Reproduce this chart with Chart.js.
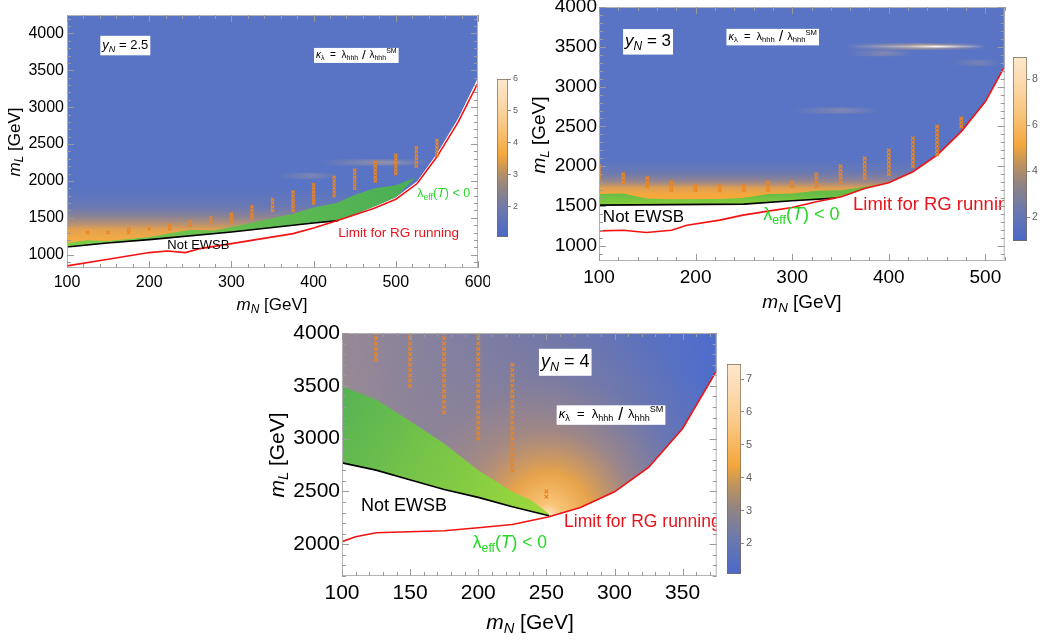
<!DOCTYPE html>
<html>
<head>
<meta charset="utf-8">
<script src="https://cdn.jsdelivr.net/npm/chart.js"></script>
<style>
  body { margin: 0; background: #fff; width: 1047px; height: 644px; position: relative; overflow: hidden; }
  canvas { position: absolute; }
</style>
</head>
<body>
<canvas id="p1" width="490" height="320" style="left:0;top:0"></canvas>
<canvas id="p2" width="490" height="320" style="left:520px;top:0"></canvas>
<canvas id="p3" width="472" height="326" style="left:250px;top:318px"></canvas>
<canvas id="cb1" width="30" height="176" style="left:494px;top:70px"></canvas>
<canvas id="cb2" width="39" height="202" style="left:1008px;top:48px"></canvas>
<canvas id="cb3" width="40" height="228" style="left:722px;top:355px"></canvas>
<script>
const FONT = '"Liberation Sans", Arial, sans-serif'

// ---------- panel 1 : y_N = 2.5 ----------
const p1XTicks = [100, 200, 300, 400, 500, 600]
const p1YTicks = [1000, 1500, 2000, 2500, 3000, 3500, 4000]
const p1RedX = [100, 150, 200, 222, 244, 262, 300, 375, 400, 430, 473, 500, 526, 550, 576, 600]
const p1RedY = [848, 938, 1029, 1050, 1029, 1083, 1151, 1286, 1363, 1467, 1626, 1752, 1965, 2327, 2801, 3331]
const p1BlackX = [100, 149, 200, 300, 400, 430]
const p1BlackY = [1105, 1160, 1205, 1309, 1431, 1462]
// lower edge of the coloured area right of the black line (thin white gap above the red line)
const p1EdgeX = [473, 500, 526, 550, 576, 600, 610]
const p1EdgeY = [1650, 1778, 1995, 2370, 2850, 3400, 3700]
const p1GreenTopX = [100, 124, 149, 200, 250, 278, 300, 375, 400, 428, 449, 473, 500, 524]
const p1GreenTopY = [1160, 1195, 1186, 1240, 1340, 1330, 1376, 1557, 1639, 1702, 1806, 1897, 1942, 2046]
const p1Crosses = [
  [125, [1300]], [150, [1300]], [175, [1300, 1350]], [200, [1350]], [225, [1350, 1400]],
  [250, [1400, 1450]], [275, [1450, 1500]], [300, [1450, 1500, 1550]],
  [325, [1500, 1550, 1600, 1650]], [350, [1600, 1650, 1700, 1750]],
  [375, [1600, 1650, 1700, 1750, 1800, 1850]], [400, [1700, 1750, 1800, 1850, 1900, 1950]],
  [425, [1800, 1850, 1900, 1950, 2000, 2050]], [450, [1900, 1950, 2000, 2050, 2100, 2150]],
  [475, [2000, 2050, 2100, 2150, 2200, 2250]], [500, [2100, 2150, 2200, 2250, 2300, 2350]],
  [525, [2200, 2250, 2300, 2350, 2400, 2450]], [550, [2350, 2400, 2450, 2500, 2550]]
]
const p1StreakY = [2250, 2069]
const p1StreakX0 = [408, 355]
const p1StreakX1 = [542, 430]
const p1StreakGlow = [0.6, 0.4]
const p1StreakCore = [0.12, 0.05]

// ---------- panel 2 : y_N = 3 ----------
const p2XTicks = [100, 200, 300, 400, 500]
const p2YTicks = [1000, 1500, 2000, 2500, 3000, 3500, 4000]
const p2RedX = [100, 125, 149, 175, 191, 225, 249, 275, 300, 325, 351, 375, 400, 425, 450, 475, 500, 520]
const p2RedY = [1188, 1197, 1168, 1197, 1260, 1323, 1386, 1436, 1482, 1553, 1616, 1721, 1793, 1931, 2141, 2435, 2812, 3253]
const p2BlackX = [100, 250, 300, 345]
const p2BlackY = [1512, 1524, 1566, 1600]
const p2EdgeX = [351, 375, 400, 425, 450, 475, 500, 520, 530]
const p2EdgeY = [1616, 1721, 1793, 1931, 2141, 2435, 2812, 3253, 3500]
const p2GreenTopX = [100, 125, 149, 175, 225, 249, 275, 300, 325, 351, 375, 400]
const p2GreenTopY = [1650, 1658, 1595, 1587, 1590, 1600, 1650, 1658, 1692, 1700, 1742, 1793]
const p2Crosses = [
  [100, [1850, 1900, 1950, 2000]], [125, [1800, 1850, 1900]], [150, [1750, 1800, 1850]],
  [175, [1700, 1750, 1800]], [200, [1700, 1750]], [225, [1700, 1750]], [250, [1700, 1750]],
  [275, [1700, 1750, 1800]], [300, [1750, 1800]], [325, [1750, 1800, 1850, 1900]],
  [350, [1800, 1850, 1900, 1950, 2000]], [375, [1850, 1900, 1950, 2000, 2050, 2100]],
  [400, [1900, 1950, 2000, 2050, 2100, 2150, 2200]],
  [425, [2000, 2050, 2100, 2150, 2200, 2250, 2300, 2350]],
  [450, [2150, 2200, 2250, 2300, 2350, 2400, 2450, 2500]], [475, [2500, 2550, 2600]]
]
const p2StreakY = [3504, 3420, 3300, 2700]
const p2StreakX0 = [356, 356, 465, 300]
const p2StreakX1 = [500, 425, 515, 390]
const p2StreakGlow = [1, 0.45, 0.35, 0.45]
const p2StreakCore = [1, 0.06, 0.04, 0.06]

// ---------- panel 3 : y_N = 4 ----------
const p3XTicks = [100, 150, 200, 250, 300, 350]
const p3YTicks = [2000, 2500, 3000, 3500, 4000]
const p3RedX = [100, 110, 125, 149, 175, 200, 225, 252, 275, 300, 325, 350, 374, 380]
const p3RedY = [2025, 2072, 2110, 2119, 2129, 2157, 2188, 2261, 2349, 2497, 2727, 3096, 3622, 3760]
const p3BlackX = [100, 125, 149, 175, 200, 225, 252]
const p3BlackY = [2771, 2702, 2614, 2519, 2444, 2355, 2270]
const p3GreenTopX = [100, 125, 149, 175, 200, 225, 239, 252]
const p3GreenTopY = [3496, 3370, 3175, 2954, 2702, 2497, 2418, 2286]
const p3Crosses = [
  [100, [4000]],
  [125, [3750, 3800, 3850, 3900, 3950, 4000]],
  [150, [3500, 3550, 3600, 3650, 3700, 3750, 3800, 3850, 3900, 3950, 4000]],
  [175, [3250, 3300, 3350, 3400, 3450, 3500, 3550, 3600, 3650, 3700, 3750, 3800, 3850, 3900, 3950, 4000]],
  [200, [3000, 3050, 3100, 3150, 3200, 3250, 3300, 3350, 3400, 3450, 3500, 3550, 3600, 3650, 3700, 3750, 3800, 3850, 3900, 3950, 4000]],
  [225, [2700, 2750, 2800, 2850, 2900, 2950, 3000, 3050, 3100, 3150, 3200, 3250, 3300, 3350, 3400, 3450, 3500, 3550, 3600, 3650, 3700]],
  [250, [2450, 2500]]
]

// colour bars (kappa_lambda)
const cb1Range = [1.03, 6]
const cb1Ticks = [2, 3, 4, 5, 6]
const cb2Range = [0.96, 8.96]
const cb2Ticks = [2, 4, 6, 8]
const cb3Range = [1.07, 7.46]
const cb3Ticks = [2, 3, 4, 5, 6, 7]

// ---------- helpers ----------
const pts = (xs, ys) => xs.map((x, i) => ({ x, y: ys[i] }))
const crossPts = cols => cols.flatMap(([x, ys]) => ys.map(y => ({ x, y })))

const CMAP = [
  [0, '#4a68c8'], [0.17, '#6c79ae'], [0.32, '#948580'], [0.43, '#c4955a'],
  [0.52, '#f4a73c'], [0.7, '#f9c680'], [0.86, '#fcdaae'], [1, '#fde8cc']
]

function yGrad(chart, stops) {
  const { ctx, chartArea, scales } = chart
  if (!chartArea) return 'rgba(0,0,0,0)'
  const y0 = scales.y.getPixelForValue(stops[0][0])
  const y1 = scales.y.getPixelForValue(stops[stops.length - 1][0])
  const g = ctx.createLinearGradient(0, y0, 0, y1)
  stops.forEach(([v, c]) => g.addColorStop((scales.y.getPixelForValue(v) - y0) / (y1 - y0), c))
  return g
}

function lineGrad(chart, a, b, stops) {
  const { ctx, chartArea, scales } = chart
  if (!chartArea) return 'rgba(0,0,0,0)'
  const g = ctx.createLinearGradient(
    scales.x.getPixelForValue(a[0]), scales.y.getPixelForValue(a[1]),
    scales.x.getPixelForValue(b[0]), scales.y.getPixelForValue(b[1]))
  stops.forEach(([t, c]) => g.addColorStop(t, c))
  return g
}

function radialGrad(chart, c, stops) {
  const { ctx, chartArea, scales } = chart
  if (!chartArea) return 'rgba(0,0,0,0)'
  const px = scales.x.getPixelForValue(c[0])
  const py = scales.y.getPixelForValue(c[1])
  const rMax = stops[stops.length - 1][0]
  const g = ctx.createRadialGradient(px, py, 0, px, py, rMax)
  stops.forEach(([r, col]) => g.addColorStop(r / rMax, col))
  return g
}

function drawRich(ctx, runs, x, y, size, color, measureOnly) {
  let cx = x
  runs.forEach(r => {
    const s = r.s ? size * 0.7 : size * (r.k || 1)
    ctx.font = (r.i ? 'italic ' : '') + s.toFixed(1) + 'px ' + FONT
    const dy = r.s === 'sub' ? size * 0.3 : r.s === 'sup' ? -size * 0.38 : 0
    if (!measureOnly) {
      ctx.fillStyle = color
      ctx.fillText(r.t, cx, y + dy)
    }
    cx += ctx.measureText(r.t).width
  })
  return cx - x
}

const runsYN = v => [{ t: 'y', i: 1 }, { t: 'N', i: 1, s: 'sub' }, { t: ' = ' + v }]
const runsKappa = [
  { t: 'κ', i: 1 }, { t: 'λ', s: 'sub' }, { t: '  =  ' }, { t: 'λ' }, { t: 'hhh', s: 'sub' },
  { t: ' / ', k: 1.35 }, { t: 'λ' }, { t: 'hhh', s: 'sub' }, { t: 'SM', s: 'sup' }
]
const runsEff = [{ t: 'λ' }, { t: 'eff', s: 'sub' }, { t: '(' }, { t: 'T', i: 1 }, { t: ') < 0' }]
const runsTitle = v => [{ t: 'm', i: 1 }, { t: v, i: 1, s: 'sub' }, { t: ' [GeV]' }]

function decor(p) {
  return {
    id: 'decor',
    afterDatasetsDraw(chart) {
      const { ctx, chartArea, scales } = chart
      ctx.save()
      ctx.beginPath()
      ctx.rect(chartArea.left, chartArea.top, chartArea.right - chartArea.left, chartArea.bottom - chartArea.top)
      ctx.clip()
      ctx.textBaseline = 'middle'
      ctx.textAlign = 'left'
      p.notes.forEach(n => {
        const x = scales.x.getPixelForValue(n.at[0])
        const y = scales.y.getPixelForValue(n.at[1])
        if (n.box) {
          const w = drawRich(ctx, n.runs, x, y, n.size, n.color, true)
          ctx.fillStyle = '#fff'
          ctx.fillRect(x - 2, y - n.size * 0.72, w + 4, n.size * 1.5)
        }
        drawRich(ctx, n.runs, x, y, n.size, n.color)
      })
      ctx.restore()
    },
    afterDraw(chart) {
      const { ctx, chartArea, scales } = chart
      const { left, right, top, bottom } = chartArea
      ctx.save()
      ctx.strokeStyle = '#b4b4b4'
      ctx.lineWidth = 1
      ctx.strokeRect(left + 0.5, top + 0.5, right - left - 1, bottom - top - 1)
      ctx.strokeStyle = '#9a9a9a'
      ctx.beginPath()
      for (let v = Math.ceil(p.xMin / p.xMinor) * p.xMinor; v <= p.xMax; v += p.xMinor) {
        const px = Math.round(scales.x.getPixelForValue(v)) + 0.5
        const len = p.xTicks.includes(v) ? 7 : 4
        ctx.moveTo(px, bottom); ctx.lineTo(px, bottom - len)
        ctx.moveTo(px, top); ctx.lineTo(px, top + len)
      }
      for (let v = Math.ceil(p.yMin / p.yMinor) * p.yMinor; v <= p.yMax; v += p.yMinor) {
        const py = Math.round(scales.y.getPixelForValue(v)) + 0.5
        const len = p.yTicks.includes(v) ? 7 : 4
        ctx.moveTo(left, py); ctx.lineTo(left + len, py)
        ctx.moveTo(right, py); ctx.lineTo(right - len, py)
      }
      ctx.stroke()
      // axis titles
      ctx.textBaseline = 'middle'
      ctx.textAlign = 'left'
      const xr = runsTitle('N')
      const wx = drawRich(ctx, xr, 0, 0, p.titleSize, '#000', true)
      drawRich(ctx, xr, p.xTitleAt[0] - wx / 2, p.xTitleAt[1], p.titleSize, '#000')
      const yr = runsTitle('L')
      const wy = drawRich(ctx, yr, 0, 0, p.titleSize, '#000', true)
      ctx.translate(p.yTitleAt[0], p.yTitleAt[1])
      ctx.rotate(-Math.PI / 2)
      drawRich(ctx, yr, -wy / 2, 0, p.titleSize, '#000')
      ctx.restore()
    }
  }
}

function makePanel(id, p) {
  const datasets = [
    { data: p.region, fill: 'shape', backgroundColor: p.regionColor, order: 20 },
    { data: p.region, fill: 'shape', backgroundColor: p.glow, order: 19 }
  ]
  p.streaks.forEach(s => {
    const seg = [{ x: s.x0, y: s.y }, { x: s.x1, y: s.y }]
    datasets.push({
      data: seg, borderWidth: 6, order: 16,
      borderColor: c => lineGrad(c.chart, [s.x0, s.y], [s.x1, s.y], [
        [0, 'rgba(232,180,115,0)'], [0.55, 'rgba(232,180,115,' + (0.5 * s.a) + ')'], [1, 'rgba(232,180,115,0)']])
    })
    datasets.push({
      data: seg, borderWidth: 2, order: 15,
      borderColor: c => lineGrad(c.chart, [s.x0, s.y], [s.x1, s.y], [
        [0, 'rgba(255,245,225,0)'], [0.45, 'rgba(255,245,225,' + (0.4 * s.core) + ')'],
        [0.65, 'rgba(255,250,240,' + s.core + ')'], [0.82, 'rgba(255,240,215,' + (0.5 * s.core) + ')'], [1, 'rgba(255,245,225,0)']])
    })
  })
  datasets.push({ data: p.green, fill: 'shape', backgroundColor: p.greenColor, order: 10 })
  datasets.push({ data: p.black, borderColor: '#000', borderWidth: 1.6, order: 5 })
  datasets.push({ data: p.red, borderColor: '#f21212', borderWidth: 1.6, order: 4 })
  datasets.push({
    data: p.crosses, showLine: false, pointStyle: 'crossRot', pointRadius: p.crossR,
    borderColor: '#ec8420', pointBorderWidth: 1.3, order: 1
  })

  const tickFont = { family: FONT, size: p.tickSize }
  new Chart(document.getElementById(id), {
    type: 'line',
    data: { datasets },
    options: {
      responsive: false,
      animation: false,
      events: [],
      layout: { padding: { top: p.padTop, right: p.padRight, left: 0, bottom: 0 } },
      elements: { point: { radius: 0 }, line: { borderWidth: 0, borderColor: 'rgba(0,0,0,0)', tension: 0 } },
      plugins: { legend: { display: false }, tooltip: { enabled: false } },
      scales: {
        x: {
          type: 'linear', min: p.xMin, max: p.xMax,
          afterBuildTicks: s => { s.ticks = p.xTicks.map(v => ({ value: v })) },
          afterFit: s => { s.height = p.xH; s.paddingLeft = 0; s.paddingRight = 0 },
          grid: { display: false, drawTicks: false }, border: { display: false },
          ticks: { font: tickFont, color: '#000', padding: p.xPad, maxRotation: 0, autoSkip: false, callback: v => String(v) }
        },
        y: {
          type: 'linear', min: p.yMin, max: p.yMax,
          afterBuildTicks: s => { s.ticks = p.yTicks.map(v => ({ value: v })) },
          afterFit: s => { s.width = p.yW; s.paddingTop = 0; s.paddingBottom = 0 },
          grid: { display: false, drawTicks: false }, border: { display: false },
          ticks: { font: tickFont, color: '#000', padding: p.yPad, autoSkip: false, callback: v => String(v) }
        }
      }
    },
    plugins: [decor(p)]
  })
}

function makeColorbar(id, range, ticks, fontSize, padLeft, axisW) {
  new Chart(document.getElementById(id), {
    type: 'bar',
    data: {
      labels: [''],
      datasets: [{
        data: [range],
        backgroundColor: c => yGrad(c.chart, CMAP.map(([t, col]) => [range[0] + t * (range[1] - range[0]), col])),
        borderColor: '#7a6a58', borderWidth: 1, borderSkipped: false,
        barPercentage: 1, categoryPercentage: 1
      }]
    },
    options: {
      responsive: false,
      animation: false,
      events: [],
      layout: { padding: { left: padLeft, top: 9, bottom: 9, right: 0 } },
      plugins: { legend: { display: false }, tooltip: { enabled: false } },
      scales: {
        x: { display: false },
        y: {
          position: 'right', min: range[0], max: range[1],
          afterBuildTicks: s => { s.ticks = ticks.map(v => ({ value: v })) },
          afterFit: s => { s.width = axisW; s.paddingTop = 0; s.paddingBottom = 0 },
          grid: { drawOnChartArea: false, tickLength: 3, color: '#8a8a8a' },
          border: { display: false },
          ticks: { font: { family: FONT, size: fontSize }, color: '#606060', padding: 2, callback: v => String(v) }
        }
      }
    }
  })
}

const BLUE = '#5974c4'

// ---------- panel 1 ----------
const p1Black = pts(p1BlackX, p1BlackY)
const p1Edge = pts(p1EdgeX, p1EdgeY)
makePanel('p1', {
  xMin: 100, xMax: 600, yMin: 820, yMax: 4250, xTicks: p1XTicks, yTicks: p1YTicks, xMinor: 20, yMinor: 100,
  padTop: 15, padRight: 12, yW: 67, xH: 52, tickSize: 16, xPad: 5, yPad: 3, titleSize: 17,
  xTitleAt: [272, 305], yTitleAt: [15, 142], crossR: 2.2,
  region: [...p1Black, ...p1Edge, { x: 610, y: 4400 }, { x: 100, y: 4400 }],
  regionColor: BLUE,
  glow: c => yGrad(c.chart, [[1180, 'rgba(246,172,66,1)'], [1340, 'rgba(243,166,66,0.9)'],
    [1490, 'rgba(195,147,102,0.58)'], [1660, 'rgba(150,132,135,0.25)'], [1900, 'rgba(140,130,150,0)']]),
  green: [...p1Black, ...p1Edge.filter(q => q.x < 524), ...pts(p1GreenTopX, p1GreenTopY).reverse()],
  greenColor: c => lineGrad(c.chart, [100, 1150], [520, 2000], [[0, '#7dcd48'], [1, '#4aae56']]),
  black: p1Black,
  red: pts(p1RedX, p1RedY),
  crosses: crossPts(p1Crosses),
  streaks: p1StreakY.map((y, i) => ({ y, x0: p1StreakX0[i], x1: p1StreakX1[i], a: p1StreakGlow[i], core: p1StreakCore[i] })),
  notes: [
    { at: [143, 3841], runs: runsYN('2.5'), size: 13, color: '#000', box: true },
    { at: [403, 3706], runs: runsKappa, size: 10, color: '#000', box: true },
    { at: [222, 1127], runs: [{ t: 'Not EWSB' }], size: 13, color: '#000' },
    { at: [526, 1830], runs: runsEff, size: 12.5, color: '#22d822' },
    { at: [430, 1290], runs: [{ t: 'Limit for RG running' }], size: 13.5, color: '#e8141c' }
  ]
})

// ---------- panel 2 ----------
const p2Black = pts(p2BlackX, p2BlackY)
const p2Edge = pts(p2EdgeX, p2EdgeY)
makePanel('p2', {
  xMin: 100, xMax: 520, yMin: 810, yMax: 4000, xTicks: p2XTicks, yTicks: p2YTicks, xMinor: 20, yMinor: 100,
  padTop: 7, padRight: 4, yW: 79, xH: 59, tickSize: 19, xPad: 5, yPad: 2, titleSize: 19,
  xTitleAt: [282, 303], yTitleAt: [20, 135], crossR: 2.5,
  region: [...p2Black, ...p2Edge, { x: 530, y: 4200 }, { x: 100, y: 4200 }],
  regionColor: BLUE,
  glow: c => yGrad(c.chart, [[1640, 'rgba(246,168,60,1)'], [1730, 'rgba(241,165,68,0.87)'],
    [1820, 'rgba(190,145,105,0.55)'], [1930, 'rgba(150,134,135,0.27)'], [2090, 'rgba(140,130,150,0)']]),
  green: [...p2Black, ...p2Edge.filter(q => q.x <= 400), ...pts(p2GreenTopX, p2GreenTopY).reverse()],
  greenColor: c => lineGrad(c.chart, [100, 1650], [100, 1510], [[0, '#66bc46'], [1, '#88d03a']]),
  black: p2Black,
  red: pts(p2RedX, p2RedY),
  crosses: crossPts(p2Crosses),
  streaks: p2StreakY.map((y, i) => ({ y, x0: p2StreakX0[i], x1: p2StreakX1[i], a: p2StreakGlow[i], core: p2StreakCore[i] })),
  notes: [
    { at: [127, 3569], runs: runsYN('3'), size: 17, color: '#000', box: true },
    { at: [234, 3626], runs: runsKappa, size: 11, color: '#000', box: true },
    { at: [104, 1359], runs: [{ t: 'Not EWSB' }], size: 17, color: '#000' },
    { at: [270, 1384], runs: runsEff, size: 18, color: '#22d822' },
    { at: [363, 1510], runs: [{ t: 'Limit for RG running' }], size: 18.5, color: '#e8141c' }
  ]
})

// ---------- panel 3 ----------
const p3Black = pts(p3BlackX, p3BlackY)
const p3Red = pts(p3RedX, p3RedY)
makePanel('p3', {
  xMin: 100, xMax: 375, yMin: 1700, yMax: 4000, xTicks: p3XTicks, yTicks: p3YTicks, xMinor: 10, yMinor: 100,
  padTop: 15, padRight: 4, yW: 92, xH: 68, tickSize: 21, xPad: 5, yPad: 2, titleSize: 21,
  xTitleAt: [280, 305], yTitleAt: [28, 137], crossR: 2.6,
  region: [...p3Black, ...p3Red.filter(q => q.x > 252), { x: 380, y: 4200 }, { x: 100, y: 4200 }],
  regionColor: c => lineGrad(c.chart, [100, 3300], [375, 3900], [[0, '#998993'], [0.55, '#7178ab'], [1, '#4d6dcc']]),
  glow: c => radialGrad(c.chart, [252, 2275], [[0, 'rgba(253,228,190,1)'], [12, 'rgba(249,196,118,1)'],
    [42, 'rgba(244,168,64,0.9)'], [85, 'rgba(205,150,98,0.5)'], [140, 'rgba(165,138,125,0.18)'], [200, 'rgba(150,130,130,0)']]),
  green: [...p3Black, ...pts(p3GreenTopX, p3GreenTopY).reverse()],
  greenColor: c => lineGrad(c.chart, [100, 3500], [252, 2280], [[0, '#55b254'], [1, '#a0da3a']]),
  black: p3Black,
  red: p3Red,
  crosses: crossPts(p3Crosses),
  streaks: [],
  notes: [
    { at: [246, 3728], runs: runsYN('4'), size: 18, color: '#000', box: true },
    { at: [259, 3227], runs: runsKappa, size: 13, color: '#000', box: true },
    { at: [114, 2362], runs: [{ t: 'Not EWSB' }], size: 18, color: '#000' },
    { at: [196, 2012], runs: runsEff, size: 17.5, color: '#22d822' },
    { at: [263, 2211], runs: [{ t: 'Limit for RG running' }], size: 17.5, color: '#e8141c' }
  ]
})

makeColorbar('cb1', cb1Range, cb1Ticks, 9, 3, 16)
makeColorbar('cb2', cb2Range, cb2Ticks, 10.5, 5, 20)
makeColorbar('cb3', cb3Range, cb3Ticks, 11, 5, 21)
</script>
</body>
</html>
